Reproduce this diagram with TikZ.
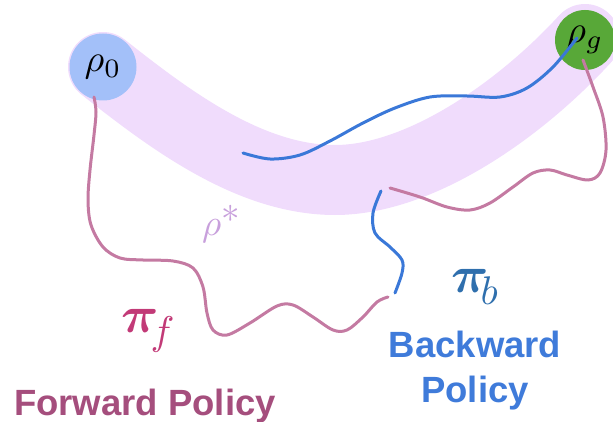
\documentclass[tikz,border=0pt]{standalone}
\usepackage{amsmath}
\usepackage{bm}
\usepackage{fontspec}
\setsansfont{Liberation Sans}
\definecolor{bandc}{RGB}{240,220,252}
\definecolor{startc}{RGB}{163,192,249}
\definecolor{goalc}{RGB}{88,168,56}
\definecolor{fwdc}{RGB}{196,122,162}
\definecolor{bwdc}{RGB}{58,120,216}
\definecolor{pifc}{RGB}{194,58,119}
\definecolor{pibc}{RGB}{47,111,173}
\definecolor{rhostc}{RGB}{200,160,220}
\definecolor{fwdtxt}{RGB}{165,78,125}
\definecolor{bwdtxt}{RGB}{63,123,218}
\newcommand{\polsym}[2]{\scalebox{5.2}{$\bm{#1}$}\kern-8pt\raisebox{-13pt}{\scalebox{4}{$#2$}}}
\begin{document}
\begin{tikzpicture}[x=1pt,y=-1pt,
  statenode/.style={circle, inner sep=0pt},
  fwdpath/.style={draw=fwdc, line width=3pt, line cap=round},
  bwdpath/.style={draw=bwdc, line width=3pt, line cap=round},
  mathlab/.style={anchor=base west, inner sep=0pt},
  policytxt/.style={anchor=base, inner sep=0pt, font=\sffamily\bfseries\fontsize{36.5}{36.5}\selectfont}]
\useasboundingbox (0,0) rectangle (613,422);
% optimal band
\draw[bandc, line width=70pt, line cap=round]
  (103,67) .. controls (170,120) and (250,180) .. (335,180)
  .. controls (420,180) and (520,110) .. (585,39);
% states
\node[statenode, fill=startc, minimum size=67pt] (rho0) at (103,67) {\scalebox{3.8}{$\rho_0$}};
\node[statenode, fill=goalc, minimum size=60pt] (rhog) at (585,40) {\scalebox{3.8}{$\rho_g$}};
% end points
\coordinate (fs) at (94,97);
\coordinate (fe) at (388,297);
\coordinate (bs) at (577,38);
\coordinate (be) at (243,153);
\coordinate (b2s) at (381,191);
\coordinate (b2e) at (395,293);
\coordinate (f2s) at (583,60);
\coordinate (f2e) at (390,188);
% forward trajectory from rho0
\draw[fwdpath] plot[smooth, tension=0.55] coordinates {(fs) (96,112) (94,135) (90,170) (88,200) (91,225) (103,247) (120,258) (143,260) (173,261) (193,268) (203,287) (207,313) (213,330) (227,335) (250,323) (277,306) (293,305) (313,317) (333,330) (347,330) (363,317) (377,302) (fe)};
% forward trajectory from rho_g
\draw[fwdpath] plot[smooth, tension=0.55] coordinates {(f2s) (593,87) (603,117) (606,150) (600,173) (588,180) (567,175) (550,170) (533,173) (513,187) (490,203) (470,210) (447,207) (420,197) (f2e)};
% backward trajectories
\draw[bwdpath] plot[smooth, tension=0.55] coordinates {(be) (270,159) (300,155) (330,141) (363,123) (395,108) (430,97) (467,96) (500,97) (527,88) (553,67) (bs)};
\draw[bwdpath] plot[smooth, tension=0.55] coordinates {(b2s) (373,213) (375,233) (390,247) (402,260) (402,273) (b2e)};
% labels
\node[mathlab, text=rhostc] (rhostar) at (202,236) {\scalebox{3.7}{$\rho^{\textstyle *}$}};
\node[mathlab, text=pifc] (pif) at (121,332) {\polsym{\pi}{f}};
\node[mathlab, text=pibc] (pib) at (451,292) {\polsym{\pi}{b}};
\node[policytxt, text=fwdtxt] (fwdlab) at (145,415) {Forward Policy};
\node[policytxt, text=bwdtxt] (bwdlab1) at (475,357) {Backward};
\node[policytxt, text=bwdtxt] (bwdlab2) at (475,402) {Policy};
\end{tikzpicture}
\end{document}
